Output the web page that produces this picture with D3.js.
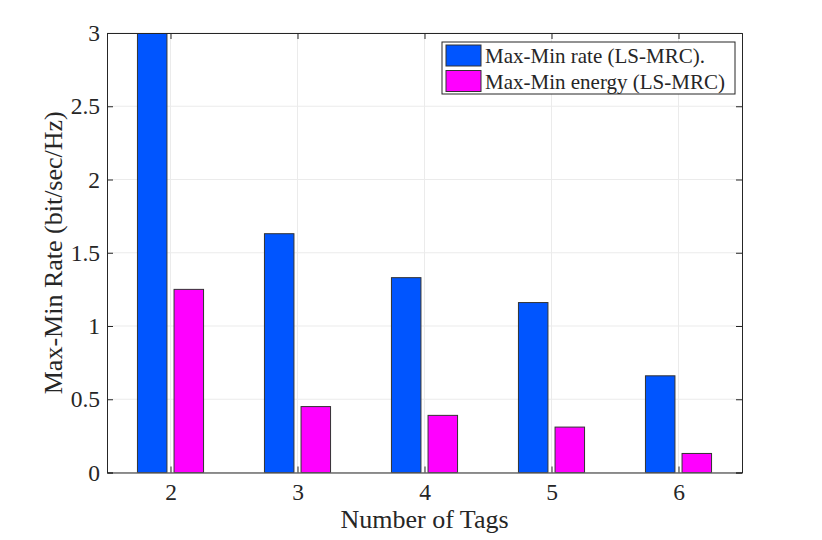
<!DOCTYPE html>
<html>
<head>
<meta charset="utf-8">
<script src="https://cdn.jsdelivr.net/npm/d3@7"></script>
<style>
  body { margin: 0; background: #fff; }
  svg text { font-family: "Liberation Serif", "Times New Roman", serif; fill: #262626; }
</style>
</head>
<body>
<div id="chart-area"><svg></svg></div>
<script>
const tags = [2, 3, 4, 5, 6];
const rateValues = [3.0, 1.63, 1.33, 1.16, 0.66];
const energyValues = [1.25, 0.45, 0.39, 0.31, 0.13];
const seriesNames = ["Max-Min rate (LS-MRC).", "Max-Min energy (LS-MRC)"];
const yTicks = [0, 0.5, 1, 1.5, 2, 2.5, 3];

const chartSize = { width: 822, height: 540 };
const margin = { left: 107, right: 80, top: 33, bottom: 67.5 };
const width = chartSize.width - margin.left - margin.right;
const height = chartSize.height - margin.top - margin.bottom;
const colours = ["#0055ff", "#ff00ff"];

const svg = d3.select("#chart-area svg")
  .attr("width", chartSize.width)
  .attr("height", chartSize.height);

const g = svg.append("g")
  .attr("transform", `translate(${margin.left},${margin.top})`);

const x = d3.scaleLinear().domain([1.5, 6.5]).range([0, width]);
const y = d3.scaleLinear().domain([0, 3]).range([height, 0]);

// grid
g.append("g").selectAll("line").data(yTicks).join("line")
  .attr("x1", 0).attr("x2", width)
  .attr("y1", d => y(d)).attr("y2", d => y(d))
  .attr("stroke", "#ebebeb");
g.append("g").selectAll("line").data(tags).join("line")
  .attr("x1", d => x(d)).attr("x2", d => x(d))
  .attr("y1", 0).attr("y2", height)
  .attr("stroke", "#ebebeb");

// bars
g.append("clipPath").attr("id", "clip")
  .append("rect").attr("width", width).attr("height", height);

const barW = 29.5;
const offset = 18.3;
const series = [rateValues, energyValues];
const bars = g.append("g").attr("clip-path", "url(#clip)");
series.forEach((vals, i) => {
  bars.append("g").selectAll("rect").data(vals).join("rect")
    .attr("x", (d, j) => x(tags[j]) + (i === 0 ? -offset : offset) - barW / 2)
    .attr("y", d => y(d))
    .attr("width", barW)
    .attr("height", d => height - y(d))
    .attr("fill", colours[i])
    .attr("stroke", "#333")
    .attr("stroke-width", 1);
});

// axes
const tickLen = 6;
const yAxis = g.append("g")
  .call(d3.axisLeft(y).tickValues(yTicks).tickSize(-tickLen).tickPadding(7).tickFormat(d3.format("")));
const xAxis = g.append("g")
  .attr("transform", `translate(0,${height})`)
  .call(d3.axisBottom(x).tickValues(tags).tickSize(-tickLen).tickPadding(11).tickFormat(d3.format("d")));
const yAxisR = g.append("g")
  .attr("transform", `translate(${width},0)`)
  .call(d3.axisRight(y).tickValues(yTicks).tickSize(-tickLen).tickFormat(""));
const xAxisT = g.append("g")
  .call(d3.axisTop(x).tickValues(tags).tickSize(-tickLen).tickFormat(""));

[yAxis, xAxis, yAxisR, xAxisT].forEach(a => {
  a.select(".domain").attr("stroke", "#262626").attr("stroke-width", 1);
  a.selectAll(".tick line").attr("stroke", "#262626");
  a.selectAll("text").attr("font-size", 23.5).attr("fill", "#262626")
    .style("font-family", '"Liberation Serif", serif');
});

g.append("text")
  .attr("x", width / 2)
  .attr("y", height + 55.5)
  .attr("text-anchor", "middle")
  .attr("font-size", 26)
  .text("Number of Tags");

g.append("text")
  .attr("transform", "rotate(-90)")
  .attr("x", -height / 2)
  .attr("y", -45)
  .attr("text-anchor", "middle")
  .attr("font-size", 26)
  .text("Max-Min Rate (bit/sec/Hz)");

// legend
const legend = g.append("g").attr("transform", `translate(${442 - margin.left},${42 - margin.top})`);
legend.append("rect")
  .attr("width", 293).attr("height", 52)
  .attr("fill", "#fff").attr("stroke", "#262626");
seriesNames.forEach((name, i) => {
  const row = legend.append("g").attr("transform", `translate(4,${3 + i * 25.5})`);
  row.append("rect")
    .attr("width", 35).attr("height", 21)
    .attr("fill", colours[i]).attr("stroke", "#333");
  row.append("text")
    .attr("x", 39).attr("y", 18)
    .attr("font-size", 21)
    .text(name);
});
</script>
</body>
</html>
